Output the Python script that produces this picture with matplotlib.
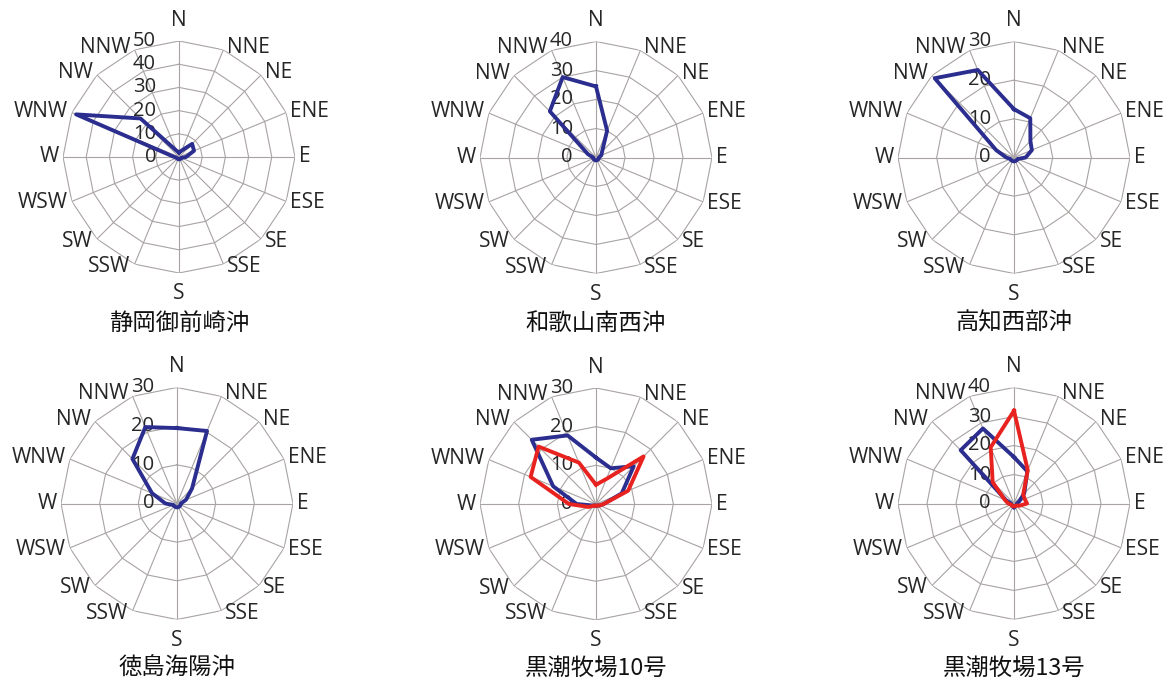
import numpy as np
import matplotlib
matplotlib.use("Agg")
import matplotlib.pyplot as plt

plt.rcParams["font.family"] = ["Open Sans", "DejaVu Sans"]

# 16-point compass, clockwise from north
directions = ["N", "NNE", "NE", "ENE", "E", "ESE", "SE", "SSE",
              "S", "SSW", "SW", "WSW", "W", "WNW", "NW", "NNW"]

titles = ["静岡御前崎沖", "和歌山南西沖", "高知西部沖",
          "徳島海陽沖", "黒潮牧場10号", "黒潮牧場13号"]
radial_max = [50, 40, 30, 30, 30, 40]

# frequency (%) per direction
omaezaki = [2, 3, 8, 7, 3, 1, 1, 1, 1, 1, 1, 1, 2, 48, 23.5, 3]
wakayama = [24.5, 10, 3, 2, 1, 1, 1, 1, 1, 1, 1, 1, 1, 3, 22.5, 30]
kochi = [12.5, 11, 6, 5, 3, 1, 1, 1, 1, 1, 1, 1, 2, 5, 29, 24.5]
tokushima = [19.5, 20.3, 5.5, 2.5, 1, 1, 1, 1, 1, 1, 1, 1, 3, 7, 16.3, 21.4]
kuroshio10_blue = [12, 10, 13.8, 7.2, 2, 1, 0.5, 0.5, 0.5, 0.5, 0.5, 1, 5, 12, 23.5, 19.2]
kuroshio10_red = [5, 7, 17.4, 9, 2, 1, 0.5, 0.5, 0.5, 0.5, 0.5, 2, 7, 18.3, 21, 11.6]
kuroshio13_blue = [16, 12, 5, 2, 1, 1, 1, 1, 1.5, 1, 1, 1, 1, 3, 26, 28]
kuroshio13_red = [32, 12.4, 4.5, 4, 4.5, 2, 1, 1, 1, 1, 1, 1, 2, 3.5, 10.4, 21]

BLUE = "#2B2E8F"
RED = "#E8221E"
GRID = "#A9A3A3"
TEXT = "#262626"

panel_series = [
    [(omaezaki, BLUE)],
    [(wakayama, BLUE)],
    [(kochi, BLUE)],
    [(tokushima, BLUE)],
    [(kuroshio10_blue, BLUE), (kuroshio10_red, RED)],
    [(kuroshio13_blue, BLUE), (kuroshio13_red, RED)],
]

W, H = 1168, 684
R = 116  # plot radius in pixels
centers = [(179, 157), (596, 157.5), (1014, 157.5),
           (177, 503.5), (596, 504), (1014, 503.5)]
title_y = [323, 323, 323, 668, 668, 668]

fig = plt.figure(figsize=(W / 100, H / 100), dpi=100)
fig.patch.set_facecolor("white")

theta = np.arange(16) * 2 * np.pi / 16
theta_c = np.append(theta, theta[0])
PT = 0.72  # points per pixel at 100 dpi

for k, (cx, cy) in enumerate(centers):
    rmax = radial_max[k]
    ax = fig.add_axes([(cx - R) / W, 1 - (cy + R) / H, 2 * R / W, 2 * R / H],
                      projection="polar")
    ax.set_theta_zero_location("N")
    ax.set_theta_direction(-1)
    ax.set_ylim(0, rmax)
    ax.grid(False)
    ax.set_xticks([])
    ax.set_yticks([])
    ax.spines["polar"].set_visible(False)
    ax.patch.set_alpha(0)

    # polygonal rings and spokes
    for r in range(10, rmax + 1, 10):
        ax.plot(theta_c, [r] * 17, color=GRID, lw=0.8, zorder=1)
    for t in theta:
        ax.plot([t, t], [0, rmax], color=GRID, lw=0.8, zorder=1)

    # radial value labels along the north spoke
    for r in range(0, rmax + 1, 10):
        ax.annotate(str(r), xy=(0, r), xytext=(-23 * PT, 0),
                    textcoords="offset points", ha="right", va="center",
                    fontsize=14.5, color=TEXT, zorder=2, annotation_clip=False)

    # direction labels
    for t, name in zip(theta, directions):
        s, c = np.sin(t), np.cos(t)
        if abs(s) < 0.01:
            ha = "center"
            va = "bottom" if c > 0 else "top"
            dx, dy = 0, 10 * np.sign(c)
        else:
            ha = "left" if s > 0 else "right"
            va = "center"
            dx, dy = 4 * np.sign(s), 3 * c
        ax.annotate(name, xy=(t, rmax), xytext=(dx * PT, dy * PT),
                    textcoords="offset points", ha=ha, va=va,
                    fontsize=15, color=TEXT, annotation_clip=False)

    for vals, col in panel_series[k]:
        ax.plot(theta_c, np.append(vals, vals[0]), color=col, lw=2.8,
                solid_joinstyle="round", zorder=3, clip_on=False)

    fig.text(cx / W, 1 - title_y[k] / H, titles[k], ha="center", va="center",
             fontsize=16.8, color="#111111",
             family=["Noto Sans CJK JP", "DejaVu Sans"])

fig.savefig("out.png", dpi=100, facecolor="white")
